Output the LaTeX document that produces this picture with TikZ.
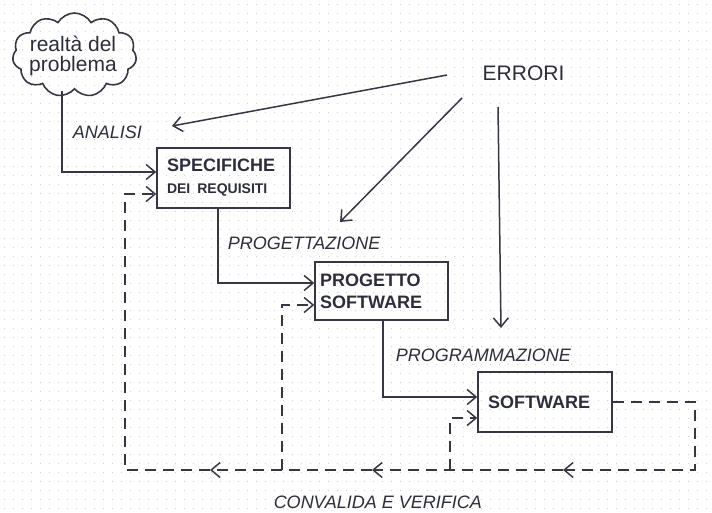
\documentclass[tikz,border=0pt]{standalone}
\usepackage{fontspec}
\setmainfont{Liberation Sans}
\usetikzlibrary{arrows.meta,shapes.symbols}
\definecolor{ink}{RGB}{55,55,68}
\definecolor{txt}{RGB}{45,45,60}
\definecolor{dotc}{RGB}{196,214,196}
\tikzset{
  arr/.style={-{Straight Barb[length=9pt,width=15pt]}},
  dsh/.style={dash pattern=on 11pt off 7pt},
  stepbox/.style={draw=ink, rectangle, text=txt, align=left, inner ysep=0pt,
    font=\bfseries\fontsize{18}{22}\selectfont},
  lbl/.style={text=txt, inner sep=0pt, font=\itshape\fontsize{18}{20}\selectfont},
}
\begin{document}
\begin{tikzpicture}[x=1pt,y=-1pt,line width=1.5pt,color=ink]
\useasboundingbox (0,0) rectangle (712,513);
% dotted background
\foreach \k in {0,...,56}{
  \draw[dotc,line width=0.9pt,dash pattern=on 0.9pt off 8.1pt] (4,4.5+9*\k) -- (712,4.5+9*\k);
}
% cloud
\node[cloud, draw=ink, line width=1.6pt, cloud puffs=11, cloud puff arc=120, aspect=1.64,
  minimum width=124pt, minimum height=84pt, inner sep=0pt] (cloud) at (74.5,55) {};
\node[text=txt, align=center, inner sep=0pt, font=\fontsize{21}{20}\selectfont] (cloudtxt) at (73,56) {realtà del\\problema};

% boxes
\node[stepbox, minimum width=133pt, minimum height=60pt, text width=113pt, inner xsep=10pt] (spec) at (223.5,178)
  {SPECIFICHE\\[0pt]{\fontsize{14}{15}\selectfont DEI\hspace{7pt}REQUISITI}};
\node[stepbox, minimum width=133pt, minimum height=58pt, text width=123pt, inner xsep=5pt] (prog) at (381.5,291)
  {PROGETTO\\SOFTWARE};
\node[stepbox, minimum width=134pt, minimum height=60pt, text width=114pt, inner xsep=10pt] (soft) at (545,402)
  {SOFTWARE};

% labels
\node[lbl, anchor=west] (analisi) at (72,132) {ANALISI};
\node[lbl, anchor=west] (progt) at (227,243) {PROGETTAZIONE};
\node[lbl, anchor=west] (progr) at (395,355) {PROGRAMMAZIONE};
\node[lbl, anchor=west] (conv) at (273,502) {CONVALIDA E VERIFICA};
\node[text=txt, inner sep=0pt, font=\fontsize{21}{22}\selectfont] (errori) at (523.5,73) {ERRORI};

% solid flow
\coordinate (c1) at (62,91);
\draw[arr] (c1) |- ([yshift=6pt]spec.west);
\draw[arr] ([xshift=-5.5pt]spec.south) |- ([yshift=8pt]prog.west);
\draw[arr] ([xshift=1.5pt]prog.south) |- ([yshift=5pt]soft.west);

% errori arrows
\coordinate (e1s) at (447,75);
\coordinate (e1e) at (172,126);
\coordinate (e2s) at (462,98);
\coordinate (e2e) at (340,222);
\coordinate (e3s) at (498,107);
\coordinate (e3e) at (501,328);
\draw[arr] (e1s) -- (e1e);
\draw[arr] (e2s) -- (e2e);
\draw[arr] (e3s) -- (e3e);

% dashed feedback
\coordinate (br) at (695,470);
\coordinate (a1) at (563,470);
\coordinate (a2) at (372,470);
\coordinate (a3) at (210,470);
\coordinate (bl) at (125,470);
\coordinate (j1) at (282,470);
\coordinate (j2) at (450,470);
\draw[dsh,arr] (soft.east) -| (br) -- (a1);
\draw[dsh,arr] (a1) -- (a2);
\draw[dsh,arr] (a2) -- (a3);
\draw[dsh,arr] (a3) -- (bl) |- ([yshift=-16pt]spec.west);
\draw[dsh,arr] (j1) |- ([yshift=-14pt]prog.west);
\draw[dsh,arr] (j2) |- ([yshift=-16pt]soft.west);
\end{tikzpicture}
\end{document}
